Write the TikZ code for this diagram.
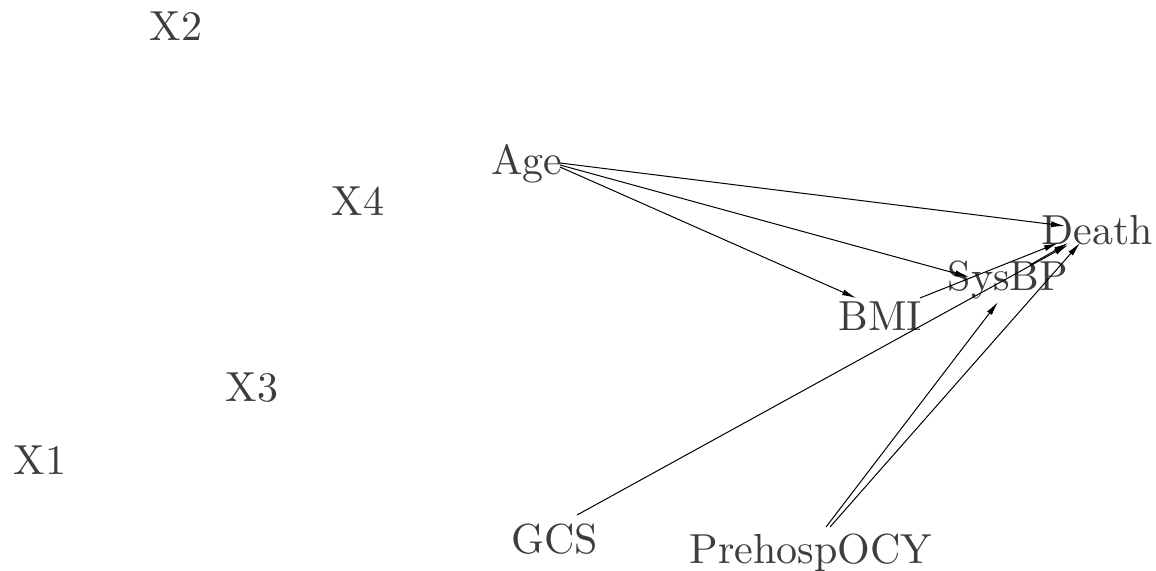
\documentclass[tikz,border=0pt]{standalone}
\usetikzlibrary{arrows.meta}
\begin{document}
\begin{tikzpicture}[x=0.5pt,y=-0.5pt,
  var/.style={anchor=base,inner sep=0pt,text=black!76,font=\fontsize{10}{12}\selectfont,scale=2.1},
  edge/.style={line width=0.5pt,-{Latex[length=7pt,width=3pt]}}]
\useasboundingbox (0,0) rectangle (1156,571);

% variables
\node[var] (X2)    at (176,41)  {X2};
\node[var] (Age)   at (527,175) {Age};
\node[var] (X4)    at (358,216) {X4};
\node[var] (Death) at (1097,245) {Death};
\node[var] (SysBP) at (1008,291) {SysBP};
\node[var] (BMI)   at (880,331) {BMI};
\node[var] (X3)    at (252,401) {X3};
\node[var] (X1)    at (40,474)  {X1};
\node[var] (GCS)   at (555,553) {GCS};
\node[var] (Pre)   at (811,563) {PrehospOCY};

% edge end points
\coordinate (ageA)   at (560,163);
\coordinate (ageB)   at (560,165);
\coordinate (ageC)   at (560,167);
\coordinate (deathA) at (1065,226);
\coordinate (deathB) at (1058,243);
\coordinate (deathC) at (1068,243);
\coordinate (deathD) at (1068,245);
\coordinate (deathE) at (1080,243);
\coordinate (sysIn)  at (969,277);
\coordinate (sysIn2) at (998,302);
\coordinate (sysOut) at (1030,265);
\coordinate (bmiIn)  at (856,298);
\coordinate (bmiOut) at (920,298);
\coordinate (gcsOut) at (577,515);
\coordinate (preA)   at (826,527);
\coordinate (preB)   at (830,527);

% edges
\draw[edge] (ageA) -- (deathA);
\draw[edge] (ageB) -- (sysIn);
\draw[edge] (ageC) -- (bmiIn);
\draw[edge] (bmiOut) -- (deathB);
\draw[edge] (sysOut) -- (deathC);
\draw[edge] (gcsOut) -- (deathD);
\draw[edge] (preA) -- (sysIn2);
\draw[edge] (preB) -- (deathE);
\end{tikzpicture}
\end{document}
